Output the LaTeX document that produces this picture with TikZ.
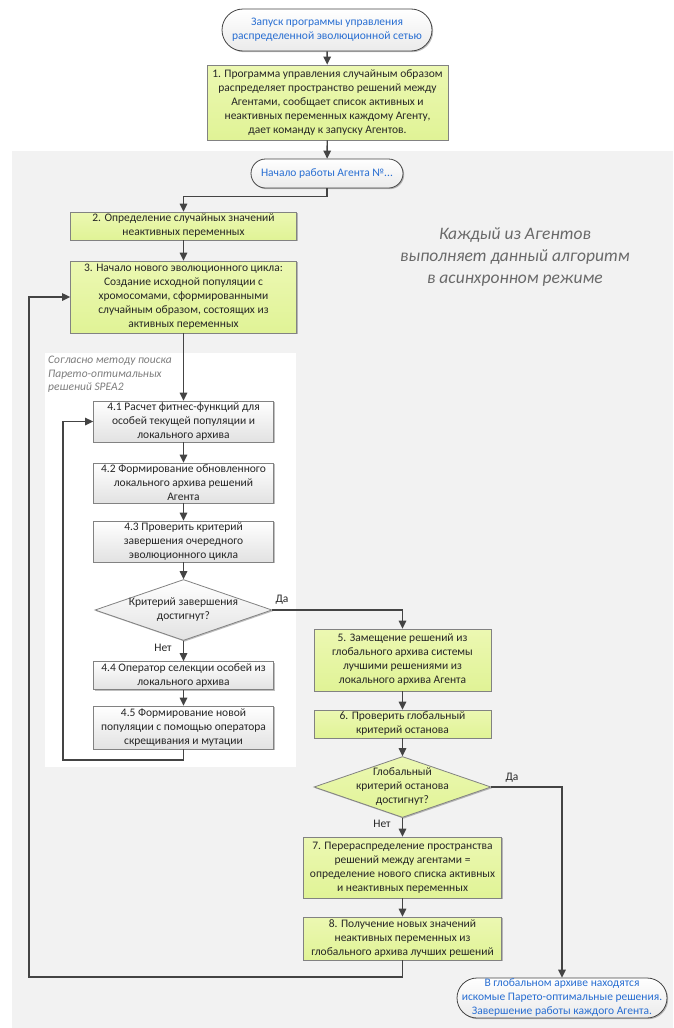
\documentclass[tikz,border=0pt]{standalone}
\usepackage{fontspec}
\setmainfont{Carlito}
\usetikzlibrary{arrows.meta,shapes.geometric,shadows}
\definecolor{bggray}{RGB}{242,242,242}
\definecolor{boxgreen}{RGB}{236,248,178}
\definecolor{boxgreenb}{RGB}{224,243,150}
\definecolor{boxgrayb}{RGB}{226,226,226}
\definecolor{edgegray}{RGB}{130,130,130}
\definecolor{arrowgray}{RGB}{68,68,68}
\definecolor{termblue}{RGB}{40,110,210}
\definecolor{notegray}{RGB}{105,105,105}
\definecolor{spgray}{RGB}{125,125,125}
\begin{document}
\begin{tikzpicture}[x=1pt,y=-1pt,
  txt/.style={font=\fontsize{11.5}{14}\selectfont},
  base/.style={txt, draw=edgegray, line width=0.8pt, align=center, inner sep=0pt, text=black!85,
    drop shadow={shadow xshift=1.2pt, shadow yshift=-1.2pt, opacity=0.25, fill=black}},
  gbox/.style={base, top color=boxgreen, bottom color=boxgreenb},
  wbox/.style={base, top color=white, bottom color=boxgrayb},
  term/.style={base, draw=arrowgray, top color=white, bottom color=boxgrayb!70, text=termblue},
  dia/.style={base, shape=diamond, inner sep=0pt},
  dtext/.style={txt, align=center, inner sep=0pt, text=black!85},
  lbl/.style={txt, inner sep=0pt, text=black!85},
  arr/.style={draw=arrowgray, line width=1.4pt, -{Triangle[length=8pt,width=7.5pt]}}
]
\useasboundingbox (0,0) rectangle (673,1028);
\fill[white] (0,0) rectangle (673,1028);
% backgrounds
\fill[bggray] (12,151) rectangle (673,1028);
\fill[white] (45,353) rectangle (296,767);

% notes
\node[font=\fontsize{17.5}{22}\selectfont\itshape, text=notegray, align=center, inner sep=0pt] (note) at (515,257)
  {Каждый из Агентов\\выполняет данный алгоритм\\в асинхронном режиме};
\node[font=\fontsize{11.5}{13.5}\selectfont\itshape, text=spgray, align=left, anchor=north west, inner sep=0pt] (spea) at (48,356)
  {Согласно методу поиска\\Парето-оптимальных\\решений SPEA2};

% nodes
\node[term, minimum width=210, minimum height=42, rounded corners=21pt] (start) at (327,30)
  {Запуск программы управления\\распределенной эволюционной сетью};
\node[gbox, minimum width=241, minimum height=75] (b1) at (327.5,102.5)
  {1. Программа управления случайным образом\\распределяет пространство решений между\\Агентами, сообщает список активных и\\неактивных переменных каждому Агенту,\\дает команду к запуску Агентов.};
\node[term, minimum width=152, minimum height=29, rounded corners=14.5pt] (agent) at (327,173.5)
  {Начало работы Агента №...};
\node[gbox, minimum width=226, minimum height=28] (b2) at (183.5,226)
  {2. Определение случайных значений\\неактивных переменных};
\node[gbox, minimum width=226, minimum height=72] (b3) at (183.5,297)
  {3. Начало нового эволюционного цикла:\\Создание исходной популяции с\\хромосомами, сформированными\\случайным образом, состоящих из\\активных переменных};
\node[wbox, minimum width=180, minimum height=41] (b41) at (183.5,421.5)
  {4.1 Расчет фитнес-функций для\\особей текущей популяции и\\локального архива};
\node[wbox, minimum width=180, minimum height=40] (b42) at (183.5,483)
  {4.2 Формирование обновленного\\локального архива решений\\Агента};
\node[wbox, minimum width=180, minimum height=41] (b43) at (183.5,541.5)
  {4.3 Проверить критерий\\завершения очередного\\эволюционного цикла};
\node[dia, top color=white, bottom color=boxgrayb, minimum width=177, minimum height=61,
  label={[dtext]center:{Критерий завершения\\достигнут?}}] (d1) at (183.5,610) {};
\node[wbox, minimum width=180, minimum height=28] (b44) at (183.5,675.5)
  {4.4 Оператор селекции особей из\\локального архива};
\node[wbox, minimum width=180, minimum height=43] (b45) at (183.5,727.5)
  {4.5 Формирование новой\\популяции с помощью оператора\\скрещивания и мутации};
\node[gbox, minimum width=177, minimum height=62] (b5) at (402.5,660)
  {5. Замещение решений из\\глобального архива системы\\лучшими решениями из\\локального архива Агента};
\node[gbox, minimum width=177, minimum height=28] (b6) at (402.5,724)
  {6. Проверить глобальный\\критерий останова};
\node[dia, top color=boxgreen, bottom color=boxgreenb, minimum width=177, minimum height=61,
  label={[dtext]center:{Глобальный\\критерий останова\\достигнут?}}] (d2) at (402.5,787) {};
\node[gbox, minimum width=198, minimum height=61] (b7) at (402.5,867.5)
  {7. Перераспределение пространства\\решений между агентами =\\определение нового списка активных\\и неактивных переменных};
\node[gbox, minimum width=198, minimum height=43] (b8) at (402.5,938.5)
  {8. Получение новых значений\\неактивных переменных из\\глобального архива лучших решений};
\node[term, minimum width=210, minimum height=40, rounded corners=20pt] (end) at (562,998)
  {В глобальном архиве находятся\\искомые Парето-оптимальные решения.\\Завершение работы каждого Агента.};

% helper coordinates
\coordinate (il) at (63,760);
\coordinate (ol) at (29,977);

% connectors
\draw[arr] (start) -- (b1);
\draw[arr] (b1) -- (agent);
\draw[arr] (agent.south) -- ++(0,8) -| (b2.north);
\draw[arr] (b2) -- (b3);
\draw[arr] (b3) -- (b41);
\draw[arr] (b41) -- (b42);
\draw[arr] (b42) -- (b43);
\draw[arr] (b43) -- (d1);
\draw[arr] (d1.east) -| (b5.north);
\draw[arr] (d1) -- (b44);
\draw[arr] (b44) -- (b45);
\draw[arr] (b45.south) |- (il) |- (b41.west);
\draw[arr] (b5) -- (b6);
\draw[arr] (b6) -- (d2);
\draw[arr] (d2.east) -| (end.north);
\draw[arr] (d2) -- (b7);
\draw[arr] (b7) -- (b8);
\draw[arr] (b8.south) |- (ol) |- (b3.west);

% labels
\node[lbl] (yes1) at (282,600) {Да};
\node[lbl] (no1) at (163,648) {Нет};
\node[lbl] (yes2) at (512,778) {Да};
\node[lbl] (no2) at (382,824) {Нет};
\end{tikzpicture}
\end{document}
